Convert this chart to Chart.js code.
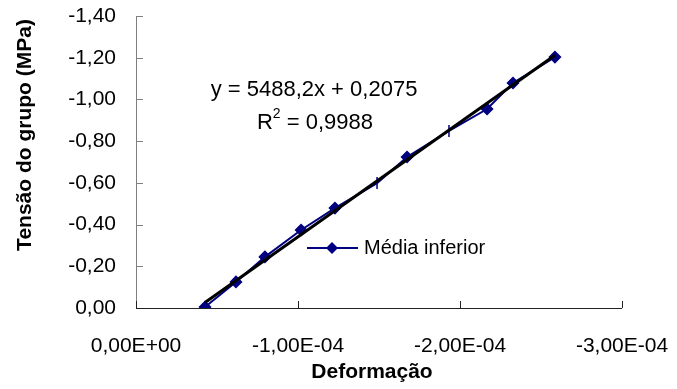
<!DOCTYPE html>
<html>
<head>
<meta charset="utf-8">
<script src="https://cdn.jsdelivr.net/npm/chart.js@4.4.1/dist/chart.umd.min.js"></script>
<style>
  html, body { margin: 0; padding: 0; background: #fff; }
  #wrap { width: 677px; height: 389px; position: relative; }
</style>
</head>
<body>
<div id="wrap"><canvas id="c" width="677" height="389"></canvas></div>
<script>
// Deformação (strain) and group stress (MPa), lower-average series
const deformacao = [-4.26e-5, -6.17e-5, -7.96e-5, -1.019e-4, -1.228e-4, -1.488e-4, -1.673e-4, -1.932e-4, -2.167e-4, -2.327e-4, -2.586e-4];
const tensao     = [-0.005, -0.125, -0.245, -0.374, -0.479, -0.599, -0.724, -0.849, -0.954, -1.079, -1.203];
// marker shape per point (two readings are drawn as short vertical dashes)
const marcadores = ['rectRot', 'rectRot', 'rectRot', 'rectRot', 'rectRot', 'line', 'rectRot', 'line', 'rectRot', 'rectRot', 'rectRot'];
const rotacoes   = [0, 0, 0, 0, 0, 90, 0, 90, 0, 0, 0];

// linear trend line coefficients
const inclinacao = 5488.2;
const intercepto = 0.2075;
const r2 = '0,9988';

// axis ticks
const xTicks = [0, -1e-4, -2e-4, -3e-4];
const yTicks = [0, -0.2, -0.4, -0.6, -0.8, -1.0, -1.2, -1.4];

const serieNome = 'Média inferior';
const tituloX = 'Deformação';
const tituloY = 'Tensão do grupo (MPa)';
const FONT = '"Liberation Sans", Arial, sans-serif';

const xMin = Math.min(...deformacao), xMax = Math.max(...deformacao);
const tendencia = [
  { x: xMax, y: inclinacao * xMax + intercepto },
  { x: xMin, y: inclinacao * xMin + intercepto }
];

function fmtY(v) {
  const s = Math.abs(v).toFixed(2).replace('.', ',');
  return (v < -1e-9 ? '-' : '') + s;
}
function fmtX(v) {
  if (Math.abs(v) < 1e-12) return '0,00E+00';
  const exp = Math.floor(Math.log10(Math.abs(v)) + 1e-9);
  const mant = v / Math.pow(10, exp);
  const e = (exp < 0 ? '-' : '+') + String(Math.abs(exp)).padStart(2, '0');
  return mant.toFixed(2).replace('.', ',') + 'E' + e;
}

// inward tick marks, axis lines, titles, equation text and legend
const extras = {
  id: 'extras',
  afterDatasetsDraw(chart) {
    const { ctx, chartArea: a, scales: { x, y } } = chart;
    ctx.save();
    // y axis
    ctx.strokeStyle = '#808080';
    ctx.lineWidth = 1;
    ctx.beginPath();
    ctx.moveTo(a.left + 0.5, a.top);
    ctx.lineTo(a.left + 0.5, a.bottom);
    yTicks.forEach(v => {
      const py = Math.round(y.getPixelForValue(v)) + 0.5;
      ctx.moveTo(a.left, py);
      ctx.lineTo(a.left + 7, py);
    });
    ctx.stroke();
    // x axis
    ctx.strokeStyle = '#222';
    ctx.beginPath();
    ctx.moveTo(a.left, a.bottom + 0.5);
    ctx.lineTo(a.right, a.bottom + 0.5);
    xTicks.forEach(v => {
      const px = Math.round(x.getPixelForValue(v)) + 0.5;
      ctx.moveTo(px, a.bottom);
      ctx.lineTo(px, a.bottom - 7);
    });
    ctx.stroke();

    // axis titles
    ctx.fillStyle = '#000';
    ctx.textBaseline = 'middle';
    ctx.textAlign = 'center';
    ctx.font = 'bold 21px ' + FONT;
    ctx.fillText(tituloX, 372, 372);
    ctx.save();
    ctx.translate(25, 135);
    ctx.rotate(-Math.PI / 2);
    ctx.fillText(tituloY, 0, 0);
    ctx.restore();

    // trend equation
    ctx.font = '22px ' + FONT;
    const eq = 'y = ' + String(inclinacao).replace('.', ',') + 'x + ' + String(intercepto).replace('.', ',');
    ctx.fillText(eq, 314, 90);
    const rest = ' = ' + r2;
    const wR = ctx.measureText('R').width;
    const wRest = ctx.measureText(rest).width;
    ctx.font = '14px ' + FONT;
    const wSup = ctx.measureText('2').width;
    const total = wR + wSup + wRest;
    const sx = 315 - total / 2;
    ctx.textAlign = 'left';
    ctx.font = '22px ' + FONT;
    ctx.fillText('R', sx, 123);
    ctx.font = '14px ' + FONT;
    ctx.fillText('2', sx + wR, 114);
    ctx.font = '22px ' + FONT;
    ctx.fillText(rest, sx + wR + wSup, 123);

    // legend
    const ly = 248;
    ctx.strokeStyle = '#000080';
    ctx.lineWidth = 2;
    ctx.beginPath();
    ctx.moveTo(307, ly);
    ctx.lineTo(358, ly);
    ctx.stroke();
    ctx.fillStyle = '#000080';
    ctx.beginPath();
    ctx.moveTo(332, ly - 6);
    ctx.lineTo(338, ly);
    ctx.lineTo(332, ly + 6);
    ctx.lineTo(326, ly);
    ctx.closePath();
    ctx.fill();
    ctx.fillStyle = '#000';
    ctx.font = '20px ' + FONT;
    ctx.fillText(serieNome, 364, ly);
    ctx.restore();
  }
};

new Chart(document.getElementById('c'), {
  type: 'scatter',
  data: {
    datasets: [
      {
        label: 'Tendência',
        data: tendencia,
        showLine: true,
        borderColor: '#000',
        borderWidth: 3,
        pointRadius: 0,
        order: 0
      },
      {
        label: serieNome,
        data: deformacao.map((d, i) => ({ x: d, y: tensao[i] })),
        showLine: true,
        borderColor: '#000080',
        backgroundColor: '#000080',
        borderWidth: 2,
        pointStyle: marcadores,
        rotation: rotacoes,
        pointRadius: marcadores.map(m => (m === 'line' ? 6 : 5.5)),
        pointBorderWidth: 1.5,
        pointBorderColor: '#000080',
        pointBackgroundColor: '#000080',
        order: 1
      }
    ]
  },
  options: {
    responsive: false,
    animation: false,
    events: [],
    layout: { padding: { left: 0, right: 55, top: 16, bottom: 0 } },
    plugins: { legend: { display: false }, tooltip: { enabled: false } },
    scales: {
      x: {
        type: 'linear',
        min: -3e-4,
        max: 0,
        reverse: true,
        afterBuildTicks: s => { s.ticks = xTicks.map(v => ({ value: v })); },
        afterFit: s => { s.height = 81; s.paddingLeft = 0; s.paddingRight = 0; },
        grid: { display: false, drawTicks: false },
        border: { display: false },
        ticks: {
          color: '#000',
          font: { family: FONT, size: 21 },
          padding: 26,
          maxRotation: 0,
          autoSkip: false,
          callback: v => fmtX(v)
        }
      },
      y: {
        type: 'linear',
        min: -1.4,
        max: 0,
        reverse: true,
        afterBuildTicks: s => { s.ticks = yTicks.map(v => ({ value: v })); },
        afterFit: s => { s.width = 136; s.paddingTop = 0; s.paddingBottom = 0; },
        grid: { display: false, drawTicks: false },
        border: { display: false },
        ticks: {
          color: '#000',
          font: { family: FONT, size: 21 },
          padding: 20,
          autoSkip: false,
          callback: v => fmtY(v)
        }
      }
    }
  },
  plugins: [extras]
});
</script>
</body>
</html>
